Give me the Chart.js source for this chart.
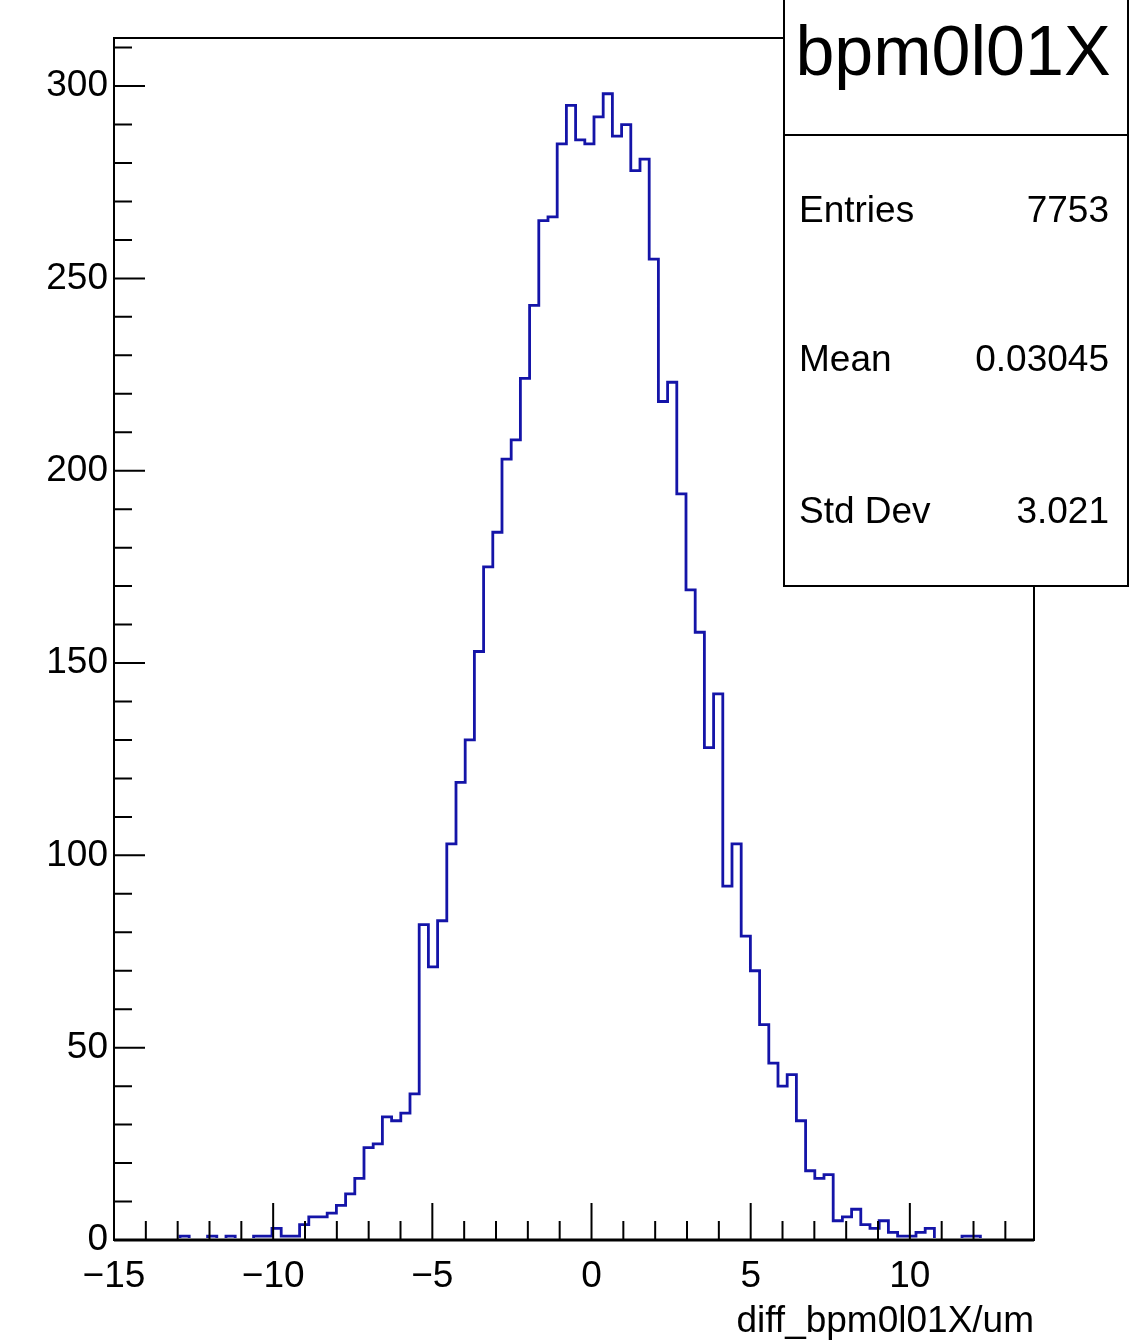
<!DOCTYPE html>
<html>
<head>
<meta charset="utf-8">
<script src="https://cdn.jsdelivr.net/npm/chart.js@4.4.1/dist/chart.umd.min.js"></script>
<style>
  html, body { margin: 0; padding: 0; background: #ffffff; }
  #wrap { width: 1132px; height: 1342px; position: relative; }
  canvas { display: block; }
</style>
</head>
<body>
<div id="wrap"><canvas id="hist" width="1132" height="1342"></canvas></div>
<script>
// Histogram of the bpm0l01X position difference, 100 equal bins
const histName = 'bpm0l01X';
const xTitle = 'diff_bpm0l01X/um';
const xMin = -15;          // axis range
const xMax = 13.9;
const binLow = -14.95;     // histogram bin range
const binHigh = 13.95;
const binCounts = [
  0, 0, 0, 0, 0, 0, 0, 1, 0, 0,
  1, 0, 1, 0, 0, 1, 1, 3, 1, 1,
  4, 6, 6, 7, 9, 12, 16, 24, 25, 32,
  31, 33, 38, 82, 71, 83, 103, 119, 130, 153,
  175, 184, 203, 208, 224, 243, 265, 266, 285, 295,
  286, 285, 292, 298, 287, 290, 278, 281, 255, 218,
  223, 194, 169, 158, 128, 142, 92, 103, 79, 70,
  56, 46, 40, 43, 31, 18, 16, 17, 5, 6,
  8, 4, 3, 5, 2, 1, 1, 2, 3, 0,
  0, 0, 1, 1, 0, 0, 0, 0, 0, 0
];
const yMaxAxis = 312.5;

// Axis tick positions
const xMajorTicks = [-15, -10, -5, 0, 5, 10];
const xMinorTicks = [-14, -13, -12, -11, -9, -8, -7, -6, -4, -3, -2, -1,
                     1, 2, 3, 4, 6, 7, 8, 9, 11, 12, 13];
const yMajorTicks = [0, 50, 100, 150, 200, 250, 300];
const yMinorTicks = [10, 20, 30, 40, 60, 70, 80, 90, 110, 120, 130, 140,
                     160, 170, 180, 190, 210, 220, 230, 240, 260, 270, 280, 290, 310];

// Statistics box
const statLabels = ['Entries', 'Mean', 'Std Dev'];
const statValues = ['7753', '0.03045', '3.021'];

const FONT = '"Liberation Sans", Arial, Helvetica, sans-serif';
const LINE_COLOR = '#1414a8';

// Step outline: one point per bin low edge, closed at the upper edge
const binWidth = (binHigh - binLow) / binCounts.length;
const outline = binCounts.map((c, i) => ({ x: binLow + i * binWidth, y: c }));
outline.push({ x: binHigh, y: binCounts[binCounts.length - 1] });

const fmtMinus = v => String(v).replace('-', '\u2212');

// Frame, inward ticks and the stats box, ROOT style
const rootFrame = {
  id: 'rootFrame',
  afterDatasetsDraw(chart) {
    const { ctx, chartArea: a, scales } = chart;
    const xs = scales.x, ys = scales.y;
    ctx.save();
    ctx.strokeStyle = '#000';
    ctx.lineWidth = 2;
    ctx.strokeRect(a.left, a.top, a.right - a.left, a.bottom - a.top);
    // slightly heavier base line
    ctx.lineWidth = 3;
    ctx.beginPath();
    ctx.moveTo(a.left, a.bottom); ctx.lineTo(a.right, a.bottom);
    ctx.stroke();

    ctx.lineWidth = 2;
    ctx.beginPath();
    xMajorTicks.forEach(v => {
      const px = xs.getPixelForValue(v);
      ctx.moveTo(px, a.bottom); ctx.lineTo(px, a.bottom - 37);
    });
    xMinorTicks.forEach(v => {
      const px = xs.getPixelForValue(v);
      ctx.moveTo(px, a.bottom); ctx.lineTo(px, a.bottom - 19);
    });
    yMajorTicks.forEach(v => {
      const py = ys.getPixelForValue(v);
      ctx.moveTo(a.left, py); ctx.lineTo(a.left + 31, py);
    });
    yMinorTicks.forEach(v => {
      const py = ys.getPixelForValue(v);
      ctx.moveTo(a.left, py); ctx.lineTo(a.left + 18, py);
    });
    ctx.stroke();

    // stats box
    const bx = 784, by = -2, bw = 344, bh = 588, divY = 135;
    ctx.fillStyle = '#fff';
    ctx.fillRect(bx, by, bw, bh);
    ctx.strokeRect(bx, by, bw, bh);
    ctx.beginPath();
    ctx.moveTo(bx, divY); ctx.lineTo(bx + bw, divY);
    ctx.stroke();

    ctx.fillStyle = '#000';
    ctx.textBaseline = 'middle';
    ctx.textAlign = 'center';
    ctx.font = '70px ' + FONT;
    ctx.fillText(histName, 953, 56);

    ctx.font = '37px ' + FONT;
    const rowY = [212, 361, 513];
    statLabels.forEach((s, i) => {
      ctx.textAlign = 'left';
      ctx.fillText(s, 799, rowY[i]);
      ctx.textAlign = 'right';
      ctx.fillText(statValues[i], 1109, rowY[i]);
    });
    ctx.restore();
  }
};

new Chart(document.getElementById('hist'), {
  type: 'line',
  data: {
    datasets: [{
      data: outline,
      stepped: true,
      borderColor: LINE_COLOR,
      borderWidth: 2.8,
      pointRadius: 0,
      fill: false,
      tension: 0,
      clip: { left: 0, top: 0, right: 0, bottom: -2 }
    }]
  },
  options: {
    responsive: false,
    animation: false,
    devicePixelRatio: 1,
    layout: { padding: { top: 38, right: 98, left: 0, bottom: 0 } },
    plugins: { legend: { display: false }, tooltip: { enabled: false } },
    scales: {
      x: {
        type: 'linear',
        min: xMin,
        max: xMax,
        grid: { display: false, drawTicks: false },
        border: { display: false },
        afterBuildTicks: s => { s.ticks = xMajorTicks.map(v => ({ value: v })); },
        afterFit: s => { s.height = 102; },
        ticks: {
          autoSkip: false,
          maxRotation: 0,
          padding: 15,
          color: '#000',
          font: { family: FONT, size: 37 },
          callback: v => fmtMinus(v)
        },
        title: {
          display: true,
          text: xTitle,
          align: 'end',
          color: '#000',
          font: { family: FONT, size: 37, lineHeight: 1.1 },
          padding: 0
        }
      },
      y: {
        type: 'linear',
        min: 0,
        max: yMaxAxis,
        grid: { display: false, drawTicks: false },
        border: { display: false },
        afterBuildTicks: s => { s.ticks = yMajorTicks.map(v => ({ value: v })); },
        afterFit: s => { s.width = 114; },
        ticks: {
          autoSkip: false,
          padding: 6,
          color: '#000',
          font: { family: FONT, size: 37 },
          callback: v => fmtMinus(v)
        }
      }
    }
  },
  plugins: [rootFrame]
});
</script>
</body>
</html>
